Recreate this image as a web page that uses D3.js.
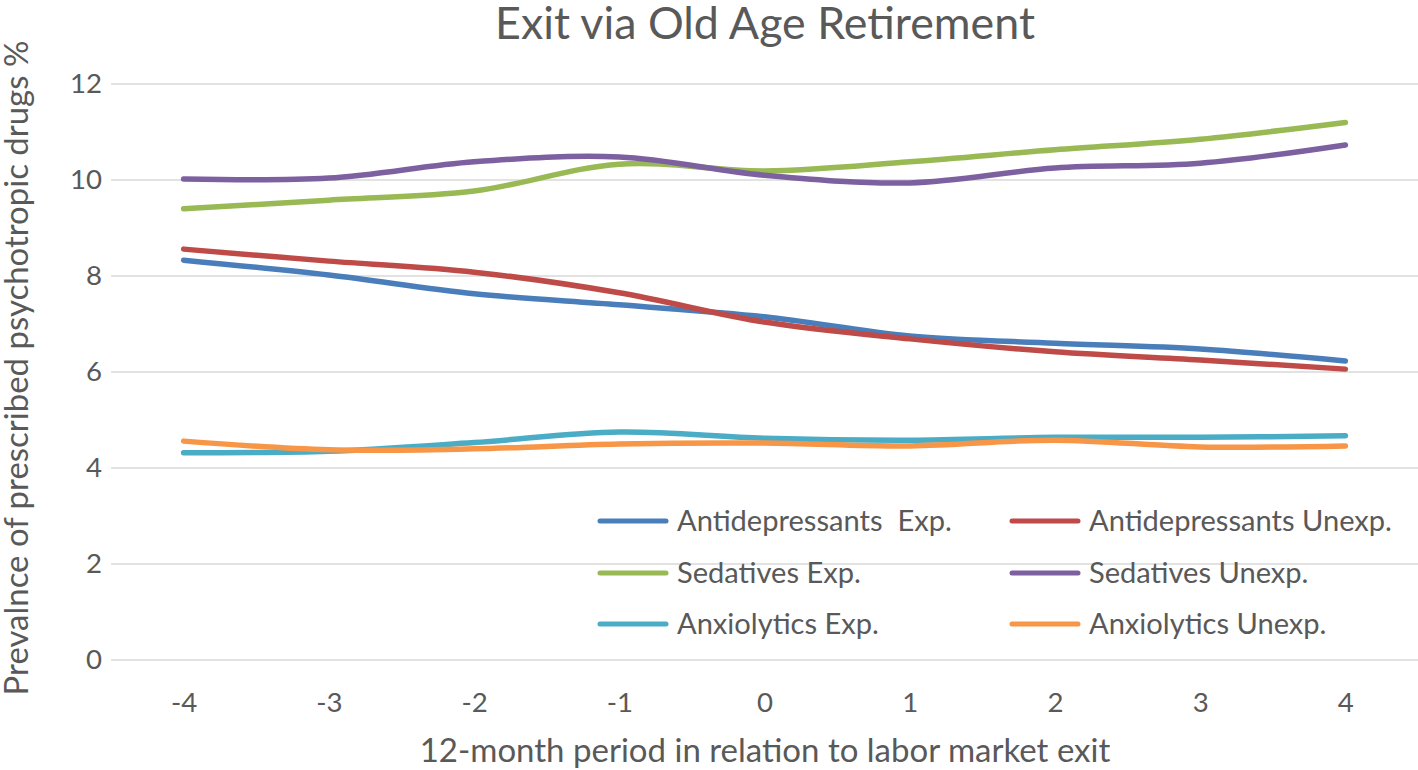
<!DOCTYPE html>
<html>
<head>
<meta charset="utf-8">
<script src="https://cdn.jsdelivr.net/npm/d3@7"></script>
<style>
  body { margin: 0; background: #fff; }
  text { font-family: Lato, "Open Sans", sans-serif; fill: #595959; }
</style>
</head>
<body>
<div id="main"></div>
<script>
// values
const periods = [-4, -3, -2, -1, 0, 1, 2, 3, 4];
const antidepExp   = [8.33, 8.02, 7.63, 7.40, 7.15, 6.75, 6.60, 6.48, 6.23];
const antidepUnexp = [8.56, 8.31, 8.08, 7.65, 7.04, 6.69, 6.42, 6.25, 6.06];
const sedExp       = [9.40, 9.58, 9.77, 10.33, 10.19, 10.38, 10.63, 10.85, 11.20];
const sedUnexp     = [10.02, 10.04, 10.38, 10.48, 10.10, 9.94, 10.25, 10.35, 10.73];
const anxExp       = [4.32, 4.35, 4.53, 4.75, 4.62, 4.58, 4.64, 4.64, 4.67];
const anxUnexp     = [4.56, 4.38, 4.40, 4.50, 4.52, 4.46, 4.58, 4.44, 4.46];
const yTicks = [0, 2, 4, 6, 8, 10, 12];
const seriesNames = ['Antidepressants  Exp.', 'Antidepressants Unexp.', 'Sedatives Exp.',
                     'Sedatives Unexp.', 'Anxiolytics Exp.', 'Anxiolytics Unexp.'];
const seriesColors = ['#4a7ebb', '#be4b48', '#98b954', '#7d60a0', '#4bacc6', '#f79646'];

const series = [antidepExp, antidepUnexp, sedExp, sedUnexp, anxExp, anxUnexp]
  .map((vals, i) => ({ name: seriesNames[i], color: seriesColors[i], values: vals }));

const W = 1418, H = 770;
const plot = { left: 111, right: 1418, top: 84, bottom: 660 };

const svg = d3.select('#main').append('svg')
  .attr('width', W).attr('height', H);

const x = d3.scalePoint().domain(periods)
  .range([plot.left, plot.right]).padding(0.5);
const y = d3.scaleLinear().domain([0, 12]).range([plot.bottom, plot.top]);

// shrink/grow a text so it spans the given width
function fit(sel, w) {
  const size = parseFloat(sel.attr('font-size'));
  sel.attr('font-size', size * w / sel.node().getComputedTextLength());
  return parseFloat(sel.attr('font-size'));
}

// gridlines
svg.append('g')
  .selectAll('line').data(yTicks).join('line')
  .attr('x1', plot.left).attr('x2', plot.right)
  .attr('y1', d => y(d)).attr('y2', d => y(d))
  .attr('stroke', '#d9d9d9').attr('stroke-width', 1.3);

// legend first so its size sets the tick size
const legend = svg.append('g');
const legRows = [521, 573, 624];
const legCols = [{ sw: 600, tx: 677 }, { sw: 1012, tx: 1089 }];
const items = legend.selectAll('g').data(series).join('g')
  .attr('transform', (d, i) => `translate(0,${legRows[Math.floor(i / 2)]})`);
items.append('line')
  .attr('x1', (d, i) => legCols[i % 2].sw).attr('x2', (d, i) => legCols[i % 2].sw + 66)
  .attr('stroke', d => d.color).attr('stroke-width', 5).attr('stroke-linecap', 'round');
const legText = items.append('text')
  .attr('x', (d, i) => legCols[i % 2].tx).attr('dy', '0.35em')
  .attr('font-size', 30).style('white-space', 'pre')
  .text(d => d.name);
const legSize = fit(d3.select(legText.nodes()[0]), 275);
legText.attr('font-size', legSize);

const tickSize = legSize * 0.95;

// y axis
const yAxis = svg.append('g')
  .attr('transform', `translate(${plot.left},0)`)
  .call(d3.axisLeft(y).tickValues(yTicks).tickSize(0).tickPadding(9));
yAxis.select('.domain').remove();
yAxis.selectAll('text').attr('font-size', tickSize)
  .attr('font-family', 'Lato, sans-serif').attr('fill', '#595959');

// x axis
const xAxis = svg.append('g')
  .attr('transform', `translate(0,${plot.bottom})`)
  .call(d3.axisBottom(x).tickSize(0).tickPadding(32));
xAxis.select('.domain').remove();
xAxis.selectAll('text').attr('font-size', tickSize)
  .attr('font-family', 'Lato, sans-serif').attr('fill', '#595959');

// series lines, later series on top
const line = d3.line()
  .x((d, i) => x(periods[i]))
  .y(d => y(d))
  .curve(d3.curveCatmullRom);
svg.append('g').selectAll('path').data(series).join('path')
  .attr('d', d => line(d.values))
  .attr('fill', 'none')
  .attr('stroke', d => d.color)
  .attr('stroke-width', 5.5)
  .attr('stroke-linecap', 'round')
  .attr('stroke-linejoin', 'round');

// title and axis titles
const title = svg.append('text')
  .attr('x', 765).attr('y', 39).attr('text-anchor', 'middle')
  .attr('font-size', 44).text('Exit via Old Age Retirement');
fit(title, 540);

const xTitle = svg.append('text')
  .attr('x', 765).attr('y', 762).attr('text-anchor', 'middle')
  .attr('font-size', 32).text('12-month period in relation to labor market exit');
fit(xTitle, 691);

const yTitle = svg.append('text')
  .attr('transform', `translate(28,${(plot.top + plot.bottom) / 2 - 4}) rotate(-90)`)
  .attr('text-anchor', 'middle')
  .attr('font-size', 32).text('Prevalnce of prescribed psychotropic drugs %');
fit(yTitle, 655);
</script>
</body>
</html>
